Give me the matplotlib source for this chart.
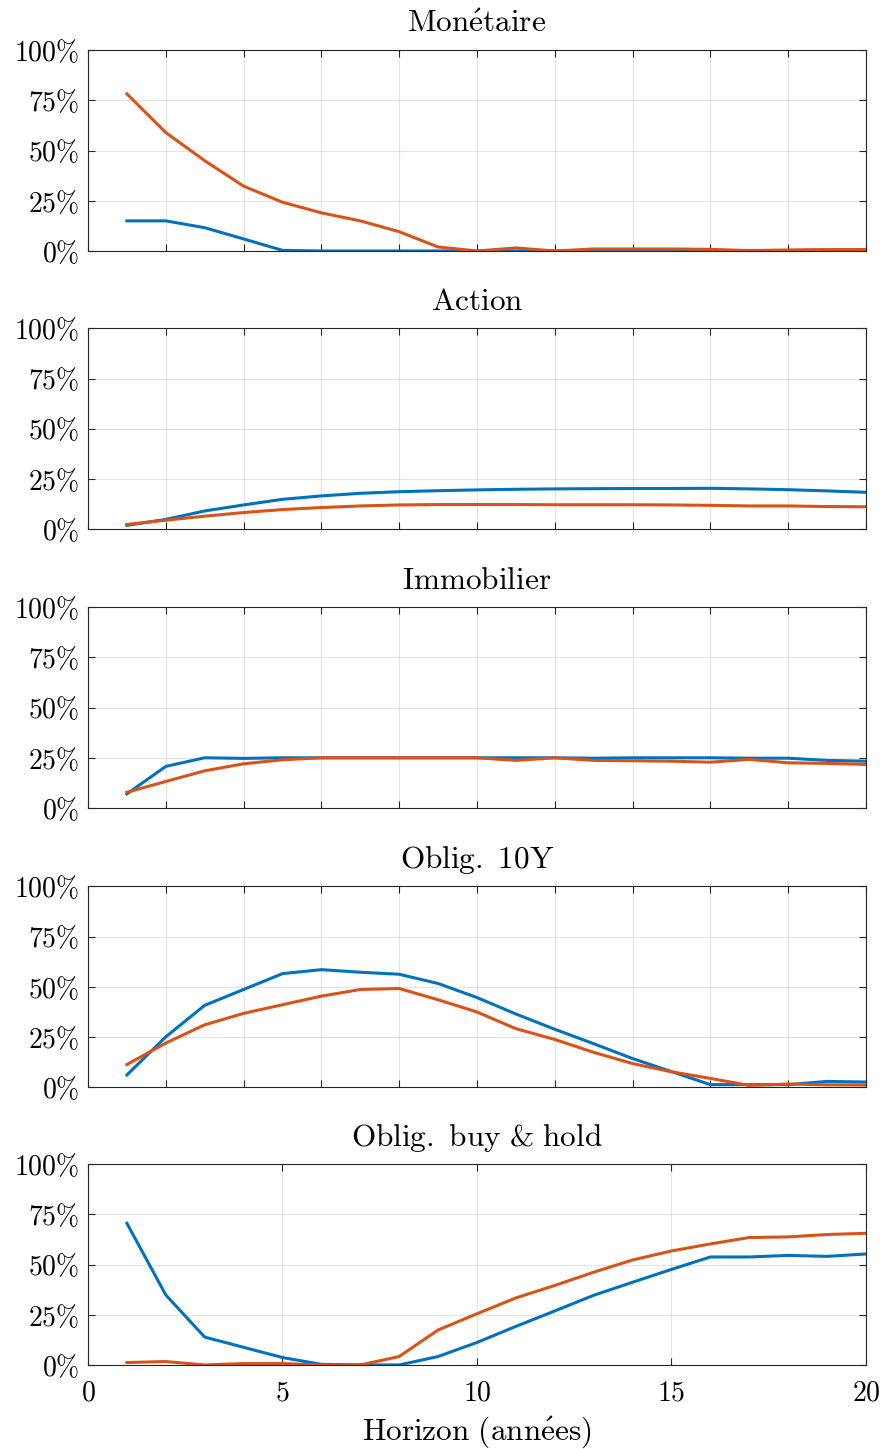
import matplotlib
matplotlib.use('Agg')
import matplotlib.pyplot as plt
import numpy as np

plt.rcParams['mathtext.fontset'] = 'cm'
plt.rcParams['font.family'] = 'serif'
plt.rcParams['font.serif'] = ['cmr10', 'DejaVu Serif']
plt.rcParams['axes.unicode_minus'] = False
plt.rcParams['axes.formatter.use_mathtext'] = True

horizon = np.arange(1, 21)

titles = [r"$\mathrm{Mon\'etaire}$", r"$\mathrm{Action}$", r"$\mathrm{Immobilier}$",
          r"$\mathrm{Oblig.\ 10Y}$", r"$\mathrm{Oblig.\ buy\ &\ hold}$"]

# blue series (%)
monetaire_a = [15, 15, 11.6, 6, 0.3, 0, 0, 0, 0, 0, 0, 0, 0.2, 0, 0, 0, 0, 0.2, 0.4, 0.4]
action_a = [1.8, 4.8, 9, 12, 14.8, 16.5, 17.8, 18.6, 19.1, 19.5, 19.8, 20, 20.1, 20.2, 20.2, 20.3, 20, 19.6, 19, 18.3]
immo_a = [7, 20.7, 25, 24.7, 25, 25, 25, 25, 25, 25, 25, 25, 24.8, 25, 25, 25, 24.8, 24.8, 23.7, 23.3]
oblig10_a = [6, 25, 40.7, 48.6, 56.5, 58.5, 57.2, 56.2, 51.6, 44.6, 36.4, 28.8, 21.6, 14.2, 7.7, 1.2, 1.2, 1.2, 2.8, 2.5]
buyhold_a = [70.6, 34.9, 13.9, 8.8, 3.7, 0.3, 0, 0, 4.2, 11.2, 19.2, 26.9, 34.7, 41.2, 47.6, 53.8, 53.8, 54.6, 54.1, 55.3]

# orange series (%)
monetaire_b = [78.3, 59, 45, 32.3, 24.3, 19, 15, 9.6, 2, 0, 1.5, 0, 1, 1, 1, 0.8, 0.2, 0.5, 0.7, 0.7]
action_b = [2.3, 4.4, 6.4, 8.2, 9.7, 10.7, 11.5, 12, 12.2, 12.2, 12.2, 12.1, 12.1, 12.1, 12, 11.8, 11.5, 11.5, 11.2, 11.1]
immo_b = [7.8, 13.2, 18.5, 22, 24, 25, 25, 25, 25, 25, 23.7, 25, 23.7, 23.5, 23.3, 22.8, 24.2, 22.5, 22.2, 21.7]
oblig10_b = [11.2, 21.9, 31, 36.7, 41, 45.3, 48.6, 49.1, 43.5, 37.4, 29.1, 23.7, 17.3, 11.7, 7.6, 4.3, 0.8, 1.5, 1.1, 1.0]
buyhold_b = [1.2, 1.7, 0, 0.7, 0.7, 0, 0, 4.2, 17.4, 25.5, 33.4, 39.6, 46.2, 52.3, 56.8, 60.3, 63.5, 63.8, 65, 65.6]

series_a = [monetaire_a, action_a, immo_a, oblig10_a, buyhold_a]
series_b = [monetaire_b, action_b, immo_b, oblig10_b, buyhold_b]

yticks = [0, 0.25, 0.5, 0.75, 1.0]
ytick_labels = [r'$0\%$', r'$25\%$', r'$50\%$', r'$75\%$', r'$100\%$']

blue = '#0072BD'
orange = '#D95319'

fig = plt.figure(figsize=(8.86, 14.49), dpi=100)
bottoms = [0.8268, 0.6349, 0.4424, 0.2498, 0.0580]
for i in range(5):
    ax = fig.add_axes([0.0993, bottoms[i], 0.878, 0.1385])
    ax.plot(horizon, np.array(series_a[i]) / 100, color=blue, lw=2.2)
    ax.plot(horizon, np.array(series_b[i]) / 100, color=orange, lw=2.2)
    ax.set_xlim(0, 20)
    ax.set_ylim(0, 1)
    ax.set_yticks(yticks)
    ax.set_yticklabels(ytick_labels)
    if i < 4:
        ax.set_xticks(np.arange(0, 21, 2))
        ax.set_xticklabels([])
    else:
        ax.set_xticks(np.arange(0, 21, 5))
        ax.set_xticklabels([r'$%d$' % v for v in range(0, 21, 5)])
        ax.set_xlabel(r"$\mathrm{Horizon\ (ann\'ees)}$", fontsize=22.5, labelpad=6)
        ax.tick_params(axis='x', pad=11)
    ax.set_title(titles[i], fontsize=22.5, pad=13)
    ax.grid(True, color='#262626', alpha=0.12, lw=0.8)
    ax.tick_params(direction='in', top=True, right=True, labelsize=20,
                   length=5, width=0.8, color='#262626')
    ax.tick_params(axis='y', pad=6)
    for s in ax.spines.values():
        s.set_color('#262626')
        s.set_linewidth(0.8)

fig.savefig('out.png', dpi=100)
